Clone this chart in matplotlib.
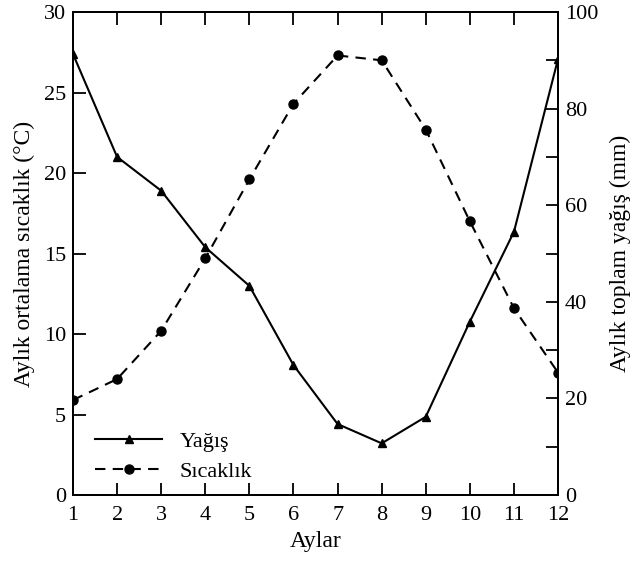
import matplotlib
matplotlib.use("Agg")
import matplotlib.pyplot as plt
from matplotlib.ticker import MultipleLocator

plt.rcParams['font.family'] = ['Liberation Serif', 'DejaVu Serif']

aylar = [1, 2, 3, 4, 5, 6, 7, 8, 9, 10, 11, 12]
sicaklik = [5.9, 7.2, 10.2, 14.7, 19.6, 24.3, 27.3, 27.0, 22.7, 17.0, 11.6, 7.6]
yagis = [91.3, 70.0, 63.0, 51.3, 43.3, 26.9, 14.7, 10.7, 16.2, 35.9, 54.5, 90.3]

fig = plt.figure(figsize=(6.32, 5.61), dpi=100)
ax1 = fig.add_axes([0.1155, 0.1176, 0.7675, 0.861])
ax2 = ax1.twinx()

l2, = ax2.plot(aylar, yagis, color="black", linestyle="-", linewidth=1.5,
               marker="^", markersize=5.5, label="Yağış")
l1, = ax1.plot(aylar, sicaklik, color="black", linestyle=(0, (5, 3.5)), linewidth=1.5,
               marker="o", markersize=6.5, label="Sıcaklık")

ax1.set_xlim(1, 12)
ax1.set_ylim(0, 30)
ax2.set_ylim(0, 100)
ax1.set_xticks(aylar)
ax1.yaxis.set_major_locator(MultipleLocator(5))
ax2.yaxis.set_major_locator(MultipleLocator(20))
ax2.yaxis.set_minor_locator(MultipleLocator(10))

ax1.tick_params(axis="x", direction="in", top=True, length=9, width=1.3, labelsize=16, pad=8)
ax1.tick_params(axis="y", direction="in", length=9, width=1.3, labelsize=16, pad=5)
ax2.tick_params(axis="y", which="major", direction="in", length=9, width=1.3, labelsize=16, pad=5)
ax2.tick_params(axis="y", which="minor", direction="in", length=9, width=1.3)

for ax in (ax1, ax2):
    for s in ax.spines.values():
        s.set_linewidth(1.4)

ax1.set_xlabel("Aylar", fontsize=17, labelpad=4)
ax1.set_ylabel("Aylık ortalama sıcaklık (°C)", fontsize=17, labelpad=6)
ax2.set_ylabel("Aylık toplam yağış (mm)", fontsize=17, labelpad=8)

ax1.legend([l2, l1], ["Yağış", "Sıcaklık"], loc="lower left", frameon=False,
           fontsize=16, bbox_to_anchor=(0.005, -0.015), handlelength=3.0, handletextpad=0.8,
           labelspacing=0.45)

fig.savefig("out.png", dpi=100)
